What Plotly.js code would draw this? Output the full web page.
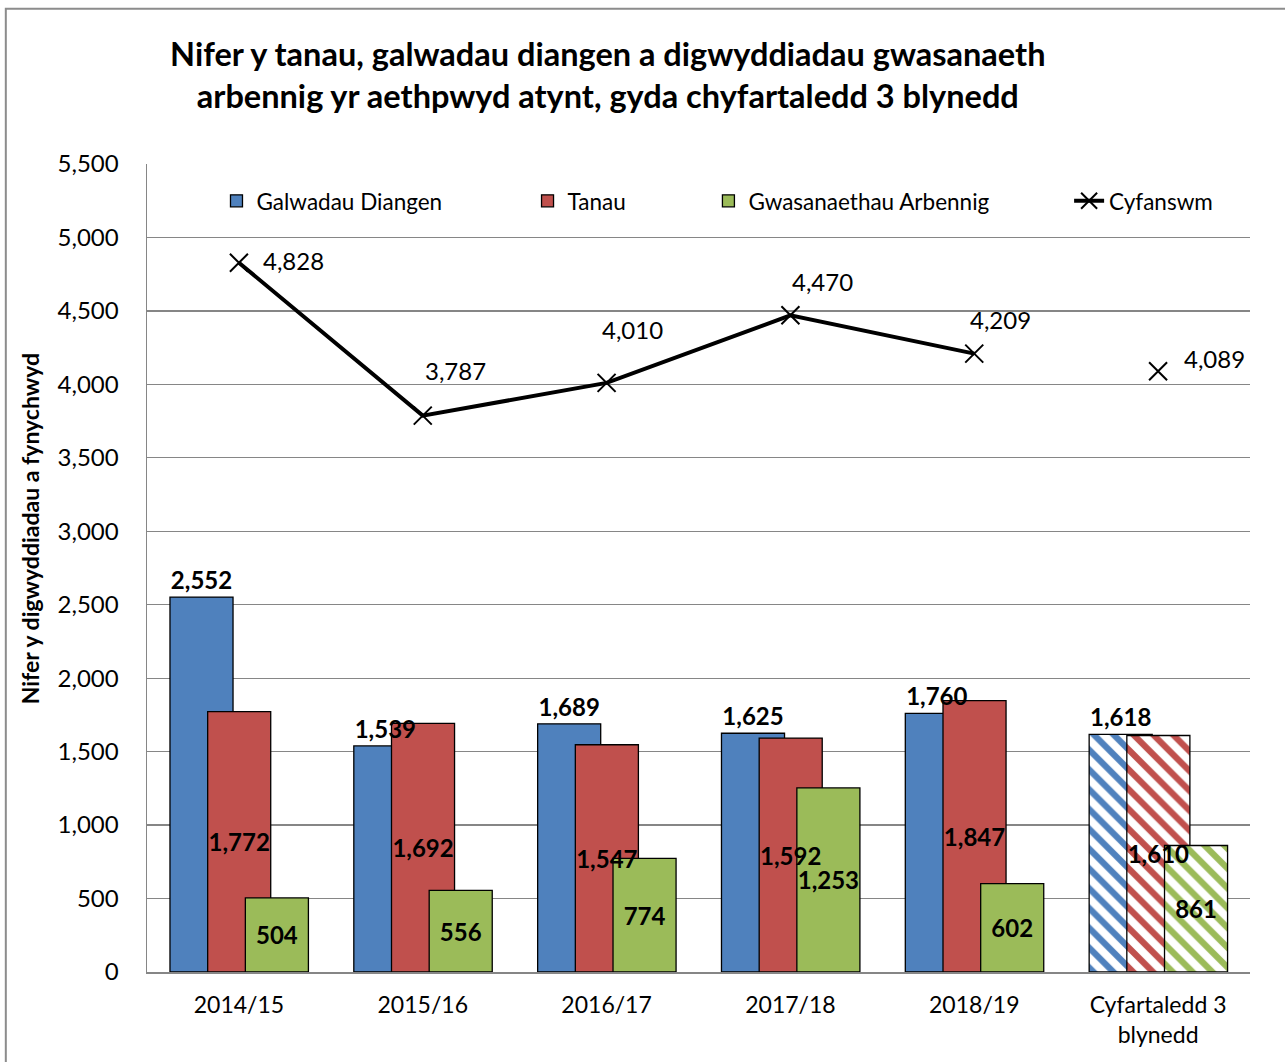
<!DOCTYPE html>
<html>
<head>
<meta charset="utf-8">
<script src="https://cdn.plot.ly/plotly-3.0.1.min.js"></script>
<style>
  body { margin: 0; background: #fff; }
  #chart { width: 1285px; height: 1062px; }
</style>
</head>
<body>
<div id="chart"></div>
<script>
const categories = ["2014/15", "2015/16", "2016/17", "2017/18", "2018/19", "Cyfartaledd 3<br>blynedd"];
const galwadauDiangen = [2552, 1539, 1689, 1625, 1760, 1618];
const tanau = [1772, 1692, 1547, 1592, 1847, 1610];
const gwasanaethauArbennig = [504, 556, 774, 1253, 602, 861];
const cyfanswm = [4828, 3787, 4010, 4470, 4209];
const cyfanswmAvg = 4089;

const fontFamily = "Lato, 'Open Sans', sans-serif";
const blue = "#4F81BD", red = "#C0504D", green = "#9BBB59";
const fmt = v => v.toLocaleString("en-US");

// stripes only on the 3-year average bars
const stripes = categories.map((c, i) => i === categories.length - 1 ? "\\" : "");

const barWidth = 0.343;
const series = [
    {name: "Galwadau Diangen", values: galwadauDiangen, color: blue, offset: -0.375, textpos: "outside", legend: "legend"},
    {name: "Tanau", values: tanau, color: red, offset: -0.17, textpos: "inside", legend: "legend2"},
    {name: "Gwasanaethau Arbennig", values: gwasanaethauArbennig, color: green, offset: 0.035, textpos: "inside", legend: "legend3"}
];

const data = [];
// coloured bars first
series.forEach(s => data.push({
    type: "bar",
    name: s.name,
    x: categories,
    y: s.values,
    width: barWidth,
    offset: s.offset,
    marker: {
        color: s.color,
        line: {color: "#000", width: 1.3},
        pattern: {shape: stripes, fgcolor: s.color, bgcolor: "#fff", size: 14, solidity: 0.45}
    },
    legend: s.legend,
    hoverinfo: "skip"
}));
// then invisible copies that only carry the value labels, so labels sit on top
series.forEach(s => data.push({
    type: "bar",
    name: s.name,
    showlegend: false,
    x: categories,
    y: s.values,
    width: barWidth,
    offset: s.offset,
    text: s.values.map(fmt),
    textposition: s.textpos,
    textangle: 0,
    insidetextanchor: "middle",
    constraintext: "none",
    cliponaxis: false,
    textfont: {family: fontFamily, size: 24, color: "#000", weight: "bold"},
    marker: {color: "rgba(0,0,0,0)", line: {width: 0}},
    hoverinfo: "skip"
}));

const xMarker = {symbol: "x-thin", size: 18, line: {color: "#000", width: 2}};
data.push({
    type: "scatter",
    mode: "lines+markers",
    name: "Cyfanswm",
    x: categories.slice(0, cyfanswm.length),
    y: cyfanswm,
    line: {color: "#000", width: 4},
    marker: xMarker,
    cliponaxis: false,
    legend: "legend4"
});
data.push({
    type: "scatter",
    mode: "markers",
    name: "Cyfanswm",
    showlegend: false,
    x: categories.slice(-1),
    y: [cyfanswmAvg],
    marker: xMarker,
    cliponaxis: false
});

// total labels, nudged off the markers (pixel offsets)
const labelShift = [[55, -2], [33, -45], [26, -53], [32, -34], [26, -34], [56, -13]];
const totalX = categories.slice(0, cyfanswm.length).concat(categories.slice(-1));
const totalY = cyfanswm.concat([cyfanswmAvg]);
const annotations = totalY.map((v, i) => ({
    x: totalX[i],
    y: v,
    xref: "x", yref: "y",
    text: fmt(v),
    showarrow: true,
    arrowcolor: "rgba(0,0,0,0)",
    ax: labelShift[i][0],
    ay: labelShift[i][1],
    font: {family: fontFamily, size: 24, color: "#000"}
}));
// y axis title (Excel puts it a little above the plot centre)
annotations.push({
    xref: "paper", yref: "paper",
    x: -0.106, y: 0.548,
    xanchor: "center", yanchor: "middle",
    textangle: -90,
    showarrow: false,
    text: "Nifer y digwyddiadau a fynychwyd",
    font: {family: fontFamily, size: 23, color: "#000", weight: "bold"}
});

const legendBase = {
    orientation: "h",
    yanchor: "middle",
    y: 0.954,
    bgcolor: "rgba(0,0,0,0)",
    font: {family: fontFamily, size: 22.5, color: "#000"},
    itemclick: false
};

const layout = {
    width: 1285,
    height: 1062,
    margin: {t: 164, r: 35, b: 90, l: 147},
    paper_bgcolor: "#fff",
    plot_bgcolor: "#fff",
    font: {family: fontFamily, color: "#000"},
    barmode: "overlay",
    title: {
        text: "Nifer y tanau, galwadau diangen a digwyddiadau gwasanaeth<br>arbennig yr aethpwyd atynt, gyda chyfartaledd 3 blynedd",
        font: {family: fontFamily, size: 32.5, color: "#000", weight: "bold"},
        xref: "container",
        x: 0.473,
        xanchor: "center",
        yref: "container",
        y: 0.938,
        yanchor: "middle"
    },
    xaxis: {
        type: "category",
        range: [-0.5, 5.5],
        showgrid: false,
        showline: true,
        linecolor: "#868686",
        linewidth: 1.5,
        ticks: "",
        ticklabelstandoff: 12,
        tickfont: {family: fontFamily, size: 23, color: "#000"}
    },
    yaxis: {
        range: [0, 5500],
        dtick: 500,
        tickformat: ",d",
        showgrid: true,
        gridcolor: "#868686",
        gridwidth: 1.3,
        showline: true,
        linecolor: "#868686",
        linewidth: 1.5,
        zeroline: false,
        ticks: "",
        ticklabelstandoff: 22,
        tickfont: {family: fontFamily, size: 24, color: "#000"}
    },
    legend: Object.assign({}, legendBase, {x: 0.063}),
    legend2: Object.assign({}, legendBase, {x: 0.345}),
    legend3: Object.assign({}, legendBase, {x: 0.509}),
    legend4: Object.assign({}, legendBase, {x: 0.836}),
    annotations: annotations,
    shapes: [{
        type: "rect",
        xref: "paper", yref: "paper",
        x0: -0.128, x1: 1.04, y0: -0.13, y1: 1.192,
        line: {color: "#8c8c8c", width: 2},
        fillcolor: "rgba(0,0,0,0)",
        layer: "below"
    }],
    showlegend: true
};

Plotly.newPlot("chart", data, layout, {staticPlot: true});
</script>
</body>
</html>
